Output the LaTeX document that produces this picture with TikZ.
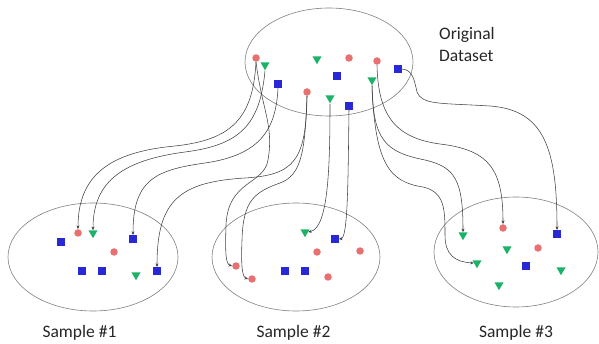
\documentclass[tikz,border=0pt]{standalone}
\usepackage{fontspec}
\setmainfont{Carlito}
\usetikzlibrary{shapes.geometric,arrows.meta}
\definecolor{redc}{RGB}{232,112,112}
\definecolor{greenc}{RGB}{28,178,104}
\definecolor{bluec}{RGB}{40,40,215}
\tikzset{
 rc/.style={circle, fill=redc, inner sep=0pt, minimum size=7.5pt},
 gt/.style={regular polygon, regular polygon sides=3, shape border rotate=180, fill=greenc, inner sep=0pt, minimum size=10.5pt},
 bs/.style={rectangle, fill=bluec, inner sep=0pt, minimum size=7.5pt},
 link/.style={draw=black!75, line width=0.55pt, -{Stealth[length=3.5pt,width=3pt]}},
 oval/.style={draw=black!50, line width=0.6pt},
 lbl/.style={font=\fontsize{17.5}{21}\selectfont, text=black!85, inner sep=0pt}
}
\begin{document}
\begin{tikzpicture}[x=1pt,y=-1pt]
\useasboundingbox (0,0) rectangle (599,344);
% ellipses
\node[oval, ellipse, minimum width=168pt, minimum height=108pt, inner sep=0pt] (top) at (329,62) {};
\node[oval, ellipse, minimum width=170pt, minimum height=108pt, inner sep=0pt] (e1) at (93,257) {};
\node[oval, ellipse, minimum width=168pt, minimum height=108pt, inner sep=0pt] (e2) at (296,257) {};
\node[oval, ellipse, minimum width=164pt, minimum height=110pt, inner sep=0pt] (e3) at (516,252) {};
% labels
\node[lbl, anchor=base west] (lo) at (439,40) {Original};
\node[lbl, anchor=base west] (ld) at (439,62) {Dataset};
\node[lbl, anchor=base] (l1) at (79.5,337) {Sample \#1};
\node[lbl, anchor=base] (l2) at (293.5,337) {Sample \#2};
\node[lbl, anchor=base] (l3) at (516,337) {Sample \#3};
% original dataset
\node[rc] (r1) at (256,58) {};
\node[gt] (g1) at (265,65) {};
\node[bs] (b1) at (278,84) {};
\node[gt] (g2) at (317,59) {};
\node[rc] (r2) at (349,58) {};
\node[bs] (b2) at (337,76) {};
\node[rc] (r3) at (377,61) {};
\node[bs] (b3) at (398,69) {};
\node[gt] (g3) at (372,80) {};
\node[rc] (r4) at (307,92) {};
\node[gt] (g4) at (330,98) {};
\node[bs] (b4) at (349,106) {};
% sample 1
\node[rc] (s1r1) at (78,233) {};
\node[gt] (s1g1) at (93,233) {};
\node[bs] (s1b1) at (61,242) {};
\node[bs] (s1b2) at (133,239) {};
\node[rc] (s1r2) at (114,252) {};
\node[bs] (s1b3) at (82,271) {};
\node[bs] (s1b4) at (102,271) {};
\node[gt] (s1g2) at (136,275) {};
\node[bs] (s1b5) at (157,271) {};
% sample 2
\node[gt] (s2g1) at (305,232) {};
\node[bs] (s2b1) at (335,239) {};
\node[rc] (s2r1) at (317,252) {};
\node[rc] (s2r2) at (360,251) {};
\node[rc] (s2r3) at (236,266) {};
\node[rc] (s2r4) at (252,279) {};
\node[bs] (s2b2) at (285,271) {};
\node[bs] (s2b3) at (305,271) {};
\node[rc] (s2r5) at (328,277) {};
% sample 3
\node[gt] (s3g1) at (463,235) {};
\node[rc] (s3r1) at (503,228) {};
\node[bs] (s3b1) at (557,234) {};
\node[gt] (s3g2) at (507,249) {};
\node[rc] (s3r2) at (538,248) {};
\node[gt] (s3g3) at (477,263) {};
\node[bs] (s3b2) at (526,266) {};
\node[gt] (s3g4) at (561,270) {};
\node[gt] (s3g5) at (499,285) {};
% connectors to sample 1
\draw[link] (r1.south) .. controls (253,120) and (230,140) .. (175,146) .. controls (110,152) and (78,175) .. (s1r1.north);
\draw[link] (g1.south) .. controls (260,125) and (240,145) .. (185,152) .. controls (125,160) and (93,180) .. (s1g1.north);
\draw[link] (b1.south) .. controls (276,130) and (260,155) .. (205,163) .. controls (155,170) and (133,180) .. (s1b2.north);
\draw[link] (r4.south) .. controls (306,160) and (295,175) .. (245,178) .. controls (180,182) and (157,200) .. (s1b5.north);
% connectors to sample 2
\draw[link] (r1.south) .. controls (262,110) and (274,125) .. (268,160) .. controls (264,185) and (228,180) .. (226,225) .. controls (225,255) and (226,264) .. (s2r3.west);
\draw[link] (r4.south) .. controls (305,150) and (302,175) .. (280,183) .. controls (255,192) and (243,200) .. (242,240) .. controls (241,265) and (242,277) .. (s2r4.west);
\draw[link] (g4.south) .. controls (330,170) and (328,228) .. (s2g1.east);
\draw[link] (b4.south) .. controls (348,180) and (348,238) .. (s2b1.east);
% connectors to sample 3
\draw[link] (g3.south) .. controls (373,140) and (385,152) .. (425,160) .. controls (455,167) and (463,180) .. (s3g1.north);
\draw[link] (g3.south) .. controls (375,165) and (390,182) .. (423,187) .. controls (445,192) and (445,210) .. (445,235) .. controls (445,255) and (455,262) .. (s3g3.west);
\draw[link] (r3.south) .. controls (378,115) and (395,138) .. (440,144) .. controls (490,150) and (503,170) .. (s3r1.north);
\draw[link] (b3.east) .. controls (412,70) and (414,78) .. (417,92) .. controls (422,105) and (440,103) .. (490,106) .. controls (545,110) and (557,150) .. (s3b1.north);
\end{tikzpicture}
\end{document}
